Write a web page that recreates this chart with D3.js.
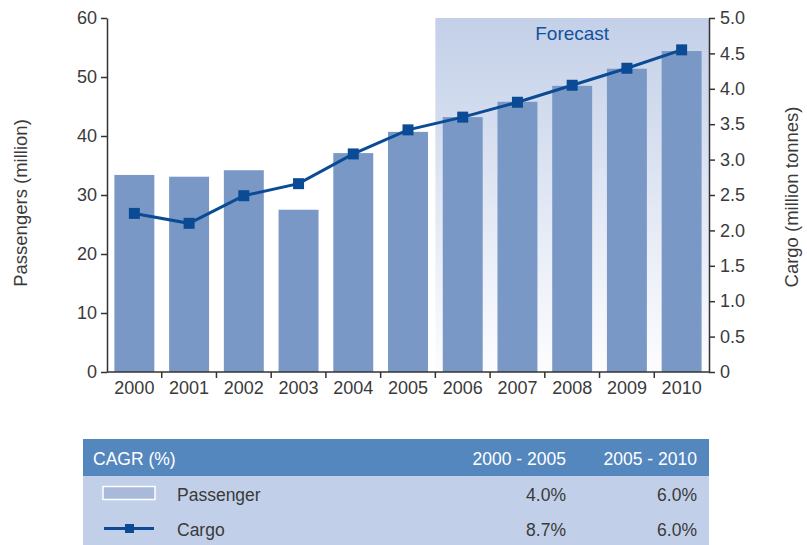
<!DOCTYPE html>
<html>
<head>
<meta charset="utf-8">
<script src="https://cdn.jsdelivr.net/npm/d3@7"></script>
<style>
  html, body { margin: 0; padding: 0; background: #fff; }
  svg { display: block; font-family: "Liberation Sans", Arial, sans-serif; }
</style>
</head>
<body>
<svg id="chart" width="807" height="545"></svg>
<script>
// Airport traffic 2000-2010 (2006 onwards forecast)
const years = ["2000","2001","2002","2003","2004","2005","2006","2007","2008","2009","2010"];
const passengers = [33.4, 33.1, 34.2, 27.5, 37.1, 40.7, 43.2, 45.8, 48.5, 51.4, 54.4];
const cargo = [2.24, 2.10, 2.49, 2.66, 3.08, 3.42, 3.60, 3.81, 4.05, 4.29, 4.55];
const forecastYears = ["2006","2007","2008","2009","2010"];
const leftTicks = [0, 10, 20, 30, 40, 50, 60];
const rightTicks = [0, 0.5, 1.0, 1.5, 2.0, 2.5, 3.0, 3.5, 4.0, 4.5, 5.0];
const cagrHeader = ["CAGR (%)", "2000 - 2005", "2005 - 2010"];
const cagrRows = [
  { name: "Passenger", kind: "bar",  values: ["4.0%", "6.0%"] },
  { name: "Cargo",     kind: "line", values: ["8.7%", "6.0%"] }
];

const svg = d3.select("#chart");
const plot = { left: 107, right: 709, top: 18, bottom: 372 };
const textColor = "#3a3a3a";
const barColor = "#7a98c6";
const lineColor = "#0b4b95";
const tickFont = 18;

const x = d3.scaleBand().domain(years).range([plot.left, plot.right]).paddingInner(0.27).paddingOuter(0.135);
const yL = d3.scaleLinear().domain([0, 60]).range([plot.bottom, plot.top]);
const yR = d3.scaleLinear().domain([0, 5]).range([plot.bottom, plot.top]);

// forecast shading
const defs = svg.append("defs");
const grad = defs.append("linearGradient").attr("id", "fcGrad").attr("x1", 0).attr("y1", 0).attr("x2", 0).attr("y2", 1);
grad.append("stop").attr("offset", "0%").attr("stop-color", "#c3d0e8");
grad.append("stop").attr("offset", "100%").attr("stop-color", "#fdfdff");

const step = x.step();
const fcStart = x(forecastYears[0]) - step * x.paddingInner() / 2;
svg.append("rect")
  .attr("x", fcStart).attr("y", plot.top)
  .attr("width", plot.right - fcStart).attr("height", plot.bottom - plot.top)
  .attr("fill", "url(#fcGrad)");
svg.append("text")
  .attr("x", (fcStart + plot.right) / 2).attr("y", 40)
  .attr("text-anchor", "middle")
  .attr("fill", "#12529c").attr("font-size", 19)
  .text("Forecast");

// passenger bars
svg.append("g").selectAll("rect").data(years).join("rect")
  .attr("x", d => x(d))
  .attr("y", (d, i) => yL(passengers[i]))
  .attr("width", x.bandwidth())
  .attr("height", (d, i) => plot.bottom - yL(passengers[i]))
  .attr("fill", barColor);

// cargo line
const pts = years.map((d, i) => [x(d) + x.bandwidth() / 2, yR(cargo[i])]);
svg.append("path")
  .attr("d", d3.line()(pts))
  .attr("fill", "none").attr("stroke", lineColor).attr("stroke-width", 3);
const ms = 11;
svg.append("g").selectAll("rect").data(pts).join("rect")
  .attr("x", d => d[0] - ms / 2).attr("y", d => d[1] - ms / 2)
  .attr("width", ms).attr("height", ms)
  .attr("fill", lineColor);

// axes
function styleAxis(g) {
  g.selectAll("path, line").attr("stroke", "#333").attr("stroke-width", 1.5);
  g.selectAll("text").attr("fill", textColor).attr("font-size", tickFont).attr("font-family", "Liberation Sans, Arial, sans-serif");
}
const axL = svg.append("g").attr("transform", `translate(${plot.left},0)`)
  .call(d3.axisLeft(yL).tickValues(leftTicks).tickSize(6).tickSizeOuter(0).tickPadding(4).tickFormat(d3.format("d")));
styleAxis(axL);
const axR = svg.append("g").attr("transform", `translate(${plot.right},0)`)
  .call(d3.axisRight(yR).tickValues(rightTicks).tickSize(6).tickSizeOuter(0).tickPadding(5)
    .tickFormat(d => d === 0 ? "0" : d3.format(".1f")(d)));
styleAxis(axR);

const axB = svg.append("g").attr("transform", `translate(0,${plot.bottom})`)
  .call(d3.axisBottom(x).tickSize(0).tickPadding(9));
axB.select(".domain").remove();
styleAxis(axB);
svg.append("line").attr("x1", plot.left).attr("x2", plot.right)
  .attr("y1", plot.bottom).attr("y2", plot.bottom).attr("stroke", "#333").attr("stroke-width", 1.5);
// band separators on the category axis
const sepX = years.slice(1).map(d => x(d) - step * x.paddingInner() / 2);
svg.append("g").selectAll("line").data(sepX).join("line")
  .attr("x1", d => d).attr("x2", d => d)
  .attr("y1", plot.bottom).attr("y2", plot.bottom + 6)
  .attr("stroke", "#333").attr("stroke-width", 1.5);

// axis titles
svg.append("text")
  .attr("transform", "translate(27,203) rotate(-90)")
  .attr("text-anchor", "middle").attr("fill", textColor).attr("font-size", 18.5)
  .text("Passengers (million)");
svg.append("text")
  .attr("transform", "translate(798,197) rotate(-90)")
  .attr("text-anchor", "middle").attr("fill", textColor).attr("font-size", 18.5)
  .text("Cargo (million tonnes)");

// CAGR table
const tbl = { left: 83, right: 709, top: 439, headH: 37, rowH: 35 };
const colRight = [566, 697];
svg.append("rect")
  .attr("x", tbl.left).attr("y", tbl.top)
  .attr("width", tbl.right - tbl.left).attr("height", tbl.headH)
  .attr("fill", "#5587bf");
svg.append("rect")
  .attr("x", tbl.left).attr("y", tbl.top + tbl.headH)
  .attr("width", tbl.right - tbl.left).attr("height", tbl.rowH * cagrRows.length)
  .attr("fill", "#c1d0e8");

const headY = tbl.top + 26;
svg.append("text").attr("x", 93).attr("y", headY).attr("fill", "#fff").attr("font-size", 17.5).text(cagrHeader[0]);
cagrHeader.slice(1).forEach((h, i) => {
  svg.append("text").attr("x", colRight[i]).attr("y", headY).attr("text-anchor", "end")
    .attr("fill", "#fff").attr("font-size", 17.5).text(h);
});

cagrRows.forEach((r, ri) => {
  const cy = tbl.top + tbl.headH + tbl.rowH * ri + tbl.rowH / 2;
  if (r.kind === "bar") {
    svg.append("rect").attr("x", 103).attr("y", cy - 7).attr("width", 52).attr("height", 13)
      .attr("fill", "#a9b9dc").attr("stroke", "#fff").attr("stroke-width", 1.5);
  } else {
    svg.append("line").attr("x1", 104).attr("x2", 154).attr("y1", cy).attr("y2", cy)
      .attr("stroke", lineColor).attr("stroke-width", 3);
    svg.append("rect").attr("x", 125).attr("y", cy - 4.5).attr("width", 9).attr("height", 9).attr("fill", lineColor);
  }
  svg.append("text").attr("x", 177).attr("y", cy + 7).attr("fill", textColor).attr("font-size", 17.5).text(r.name);
  r.values.forEach((v, i) => {
    svg.append("text").attr("x", colRight[i]).attr("y", cy + 7).attr("text-anchor", "end")
      .attr("fill", textColor).attr("font-size", 17.5).text(v);
  });
});
</script>
</body>
</html>
